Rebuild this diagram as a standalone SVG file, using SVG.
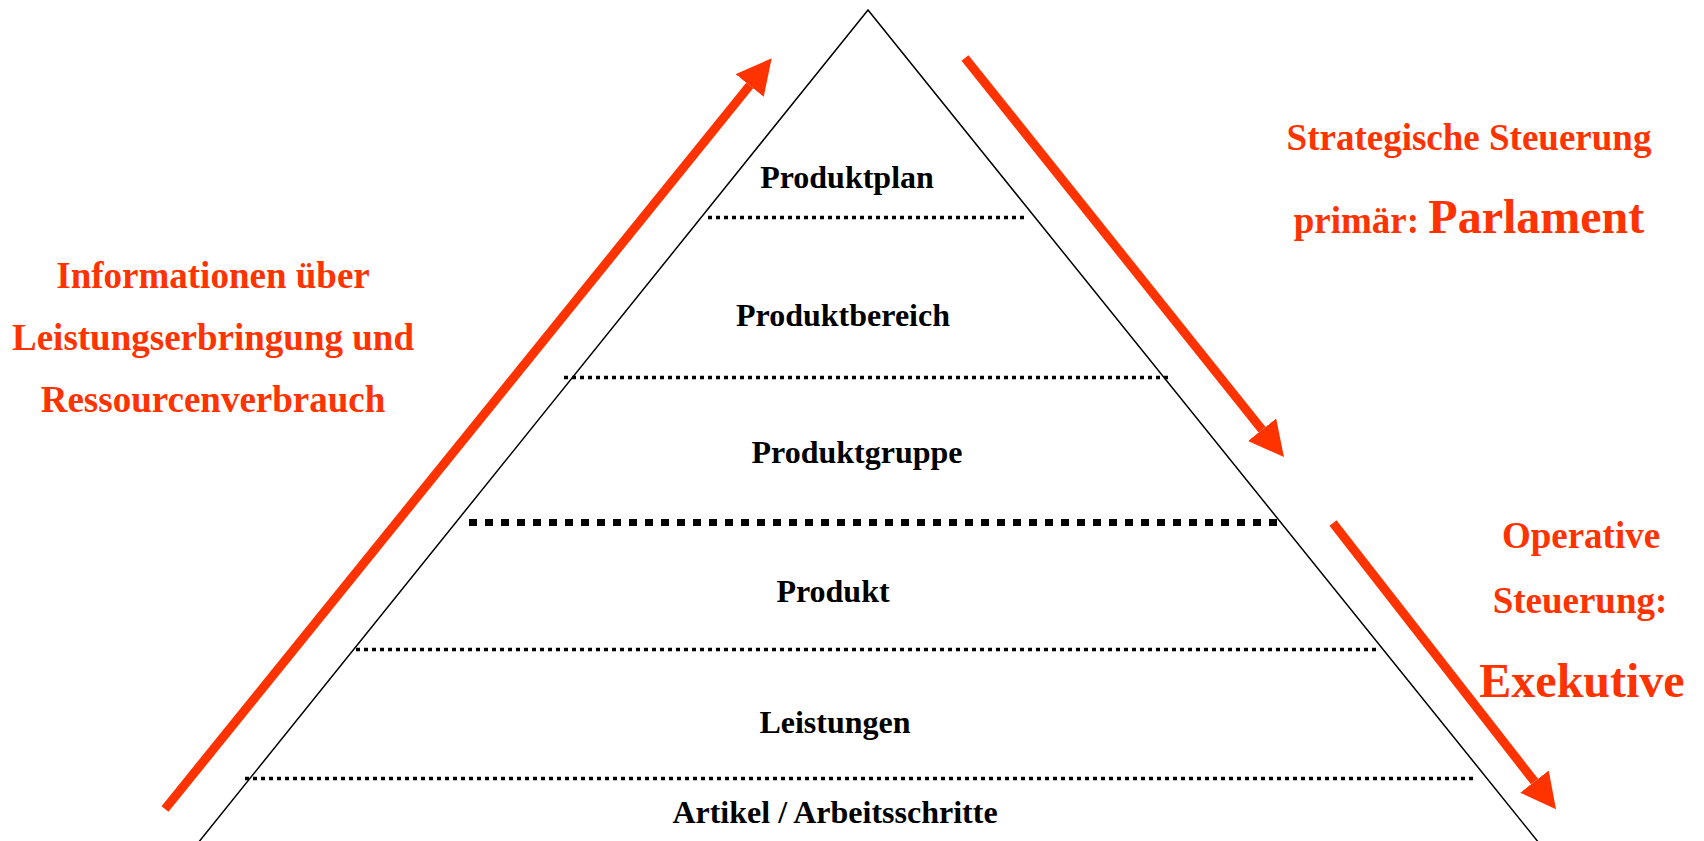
<svg xmlns="http://www.w3.org/2000/svg" width="1704" height="841" viewBox="0 0 1704 841">
<style>
.lbl{font-family:"Liberation Serif","Times New Roman",serif;font-weight:bold;font-size:32px;fill:#000;text-anchor:middle}
.org{font-family:"Liberation Serif","Times New Roman",serif;font-weight:bold;font-size:37px;fill:#FF3300;text-anchor:middle}
.big{font-size:48px}
.dot{stroke:#000;stroke-width:3.5;stroke-dasharray:4 4;fill:none}
.dotb{stroke:#000;stroke-width:7;stroke-dasharray:8 8;fill:none}
.arr{stroke:#FF3300;stroke-width:9;fill:none;marker-end:url(#ah)}
</style>
<defs>
<marker id="ah" markerUnits="userSpaceOnUse" markerWidth="36" markerHeight="36" viewBox="0 0 36 36" refX="0" refY="18" orient="auto">
<path d="M0,0 L35,18 L0,36 Z" fill="#FF3300"/>
</marker>
</defs>
<rect width="1704" height="841" fill="#fff"/>
<g id="pyramid">
<polygon points="868,10 198,843 1539,843" fill="none" stroke="#000" stroke-width="1.5"/>
<line class="dot" x1="708" y1="217.5" x2="1025" y2="217.5"/>
<line class="dot" x1="564" y1="377.5" x2="1168" y2="377.5"/>
<line class="dotb" x1="469" y1="522.5" x2="1278" y2="522.5"/>
<line class="dot" x1="356" y1="649.5" x2="1378" y2="649.5"/>
<line class="dot" x1="245" y1="778.5" x2="1473" y2="778.5"/>
</g>
<g id="level-produktplan"><text class="lbl" x="847" y="188">Produktplan</text></g>
<g id="level-produktbereich"><text class="lbl" x="843" y="326">Produktbereich</text></g>
<g id="level-produktgruppe"><text class="lbl" x="857" y="463">Produktgruppe</text></g>
<g id="level-produkt"><text class="lbl" x="833" y="602">Produkt</text></g>
<g id="level-leistungen"><text class="lbl" x="835" y="733">Leistungen</text></g>
<g id="level-artikel"><text class="lbl" x="835" y="823">Artikel / Arbeitsschritte</text></g>
<g id="info-text">
<text class="org" x="213" y="288">Informationen über</text>
<text class="org" x="213" y="350">Leistungserbringung und</text>
<text class="org" x="213" y="412">Ressourcenverbrauch</text>
</g>
<g id="strategic-text">
<text class="org" x="1469" y="150">Strategische Steuerung</text>
<text class="org" x="1469" y="233">primär: <tspan class="big">Parlament</tspan></text>
</g>
<g id="operative-text">
<text class="org" x="1581" y="548">Operative</text>
<text class="org" x="1580" y="613">Steuerung:</text>
<text class="org big" x="1582" y="697">Exekutive</text>
</g>
<g id="connectors">
<line class="arr" x1="165" y1="809" x2="749.7" y2="85.5"/>
<line class="arr" x1="965" y1="58" x2="1262.1" y2="429.7"/>
<line class="arr" x1="1333" y1="523" x2="1534.5" y2="781.6"/>
</g>
</svg>
